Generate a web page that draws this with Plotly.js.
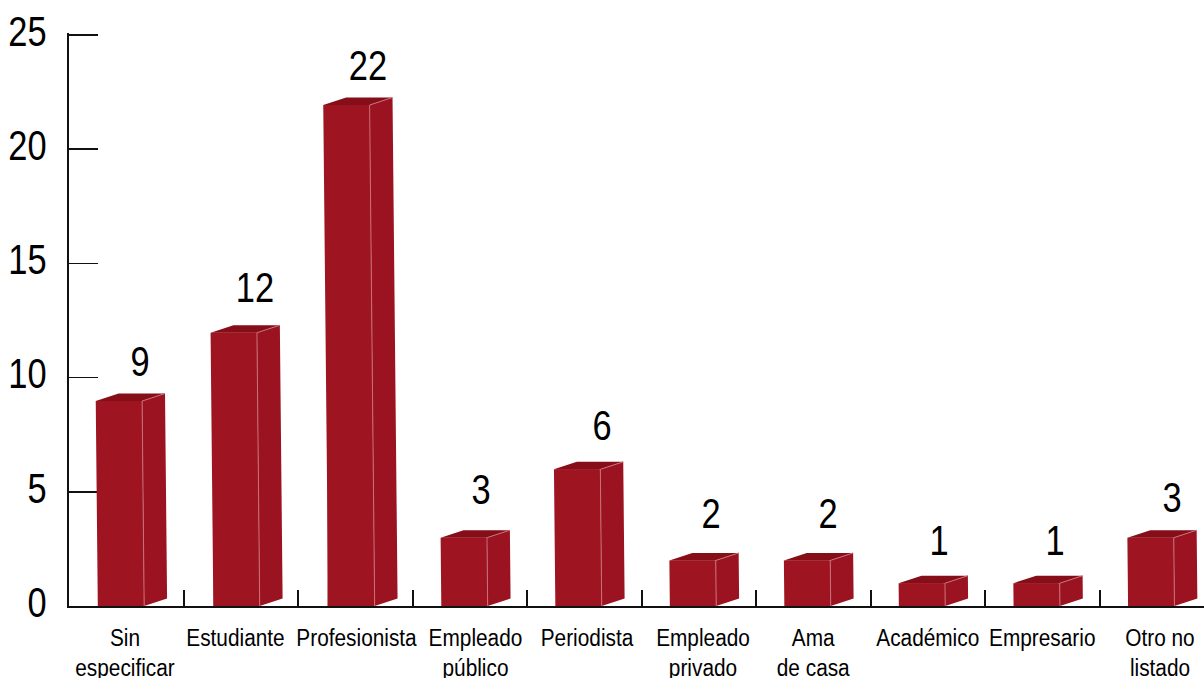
<!DOCTYPE html>
<html><head><meta charset="utf-8">
<script src="https://cdn.plot.ly/plotly-3.0.1.min.js"></script>
<style>html,body{margin:0;padding:0;background:#fff;overflow:hidden}</style>
</head><body><div id="chart" style="width:1204px;height:678px"></div>
<script>
const categories = ["Sin<br>especificar","Estudiante","Profesionista","Empleado<br>público","Periodista","Empleado<br>privado","Ama<br>de casa","Académico","Empresario","Otro no<br>listado"];
const values = [9,12,22,3,6,2,2,1,1,3];
const categoryLabelX = [-0.011,0.954,2.011,3.05,4.024,5.037,6.0,7.0,8.0,9.028];
const barShift = [-0.046,-0.037,-0.033,-0.046,-0.05,-0.05,-0.05,-0.05,-0.048,-0.048];
const labelX = [0.12,1.124,2.111,3.098,4.155,5.107,6.129,7.098,8.111,9.133];
const labelY = [10.53,13.77,23.49,4.93,7.73,3.88,3.88,2.70,2.70,4.58];
const yTicks = [0,5,10,15,20,25];
const boundaries = [-0.5,0.5,1.5,2.5,3.5,4.5,5.5,6.5,7.5,8.5];

const FRONT='#9E1421', TOP='#850E19', SIDE='#9B1320', EDGE='#C8707A';
const W=0.405, DX=0.2, DY=0.33, LEAN=0.002, SHRINK=0.997;
const cx=categories.map((_,i)=>i);
const FONT='"Liberation Sans",sans-serif';

function poly(fn){const xs=[],ys=[];values.forEach((v,i)=>{fn(i+barShift[i],v*SHRINK,v).forEach(p=>{xs.push(p[0]);ys.push(p[1]);});xs.push(null);ys.push(null);});return{x:xs,y:ys};}
const filled=(p,c)=>({type:'scatter',mode:'lines',x:p.x,y:p.y,fill:'toself',fillcolor:c,line:{color:c,width:0},hoverinfo:'skip',showlegend:false});

const bars={type:'bar',x:cx.map(i=>i+barShift[i]-LEAN*values[i]/2),y:values.map(v=>v*SHRINK),width:W-0.03,marker:{color:FRONT,line:{width:0}},hoverinfo:'y',showlegend:false};
const front=poly((c,h,v)=>[[c-W/2,0],[c+W/2,0],[c+W/2-LEAN*v,h],[c-W/2-LEAN*v,h]]);
const side=poly((c,h,v)=>[[c+W/2,0],[c+W/2+DX,DY],[c+W/2+DX-LEAN*v,h+DY],[c+W/2-LEAN*v,h]]);
const top_=poly((c,h,v)=>{const l=LEAN*v;return[[c-W/2-l,h],[c+W/2-l,h],[c+W/2+DX-l,h+DY],[c-W/2+DX-l,h+DY]];});
const edges=poly((c,h,v)=>{const l=LEAN*v;return[[c+W/2,0],[c+W/2-l,h],[c+W/2+DX-l,h+DY]];});
const edgeTrace={type:'scatter',mode:'lines',x:edges.x,y:edges.y,line:{color:EDGE,width:1},hoverinfo:'skip',showlegend:false};
const labels={type:'scatter',mode:'text',x:labelX,y:labelY,text:values.map(String),textposition:'middle center',cliponaxis:false,
  textfont:{family:FONT,size:42,color:'#000'},hoverinfo:'skip',showlegend:false};
const tickCarrier={type:'scatter',mode:'none',x:boundaries,y:boundaries.map(()=>0),xaxis:'x2',hoverinfo:'skip',showlegend:false};

const xr=[-0.5,-0.5+1135/114.5];
const layout={width:1204,height:678,margin:{l:69,r:0,t:33,b:72},paper_bgcolor:'#fff',plot_bgcolor:'#fff',showlegend:false,barmode:'overlay',
 font:{family:FONT,color:'#000'},
 xaxis:{type:'linear',range:xr,tickmode:'array',tickvals:categoryLabelX,ticktext:categories,ticks:'',showgrid:false,zeroline:false,showline:true,linecolor:'#111',linewidth:1.5,
   tickfont:{size:23,color:'#000'},tickangle:0,ticklabelstandoff:11,layer:'below traces',automargin:false},
 xaxis2:{type:'linear',overlaying:'x',range:xr,anchor:'y',side:'bottom',tickmode:'array',tickvals:boundaries,ticktext:boundaries.map(()=>''),ticks:'inside',ticklen:16,tickwidth:2,tickcolor:'#111',showgrid:false,zeroline:false,showline:false,layer:'below traces',automargin:false},
 yaxis:{range:[0,25+2/22.84],tickmode:'array',tickvals:yTicks,ticks:'inside',ticklen:29,tickwidth:1.5,tickcolor:'#111',showgrid:false,zeroline:false,showline:true,linecolor:'#111',linewidth:2,
   tickfont:{size:42,color:'#000'},ticklabelstandoff:12,ticklabelshift:-4,layer:'below traces',automargin:false}};

function condense(){
  const gd=document.getElementById('chart');
  const squeeze=(el,f)=>{const len=el.getComputedTextLength();if(len>0){el.setAttribute('textLength',(len*f).toFixed(2));el.setAttribute('lengthAdjust','spacingAndGlyphs');}};
  gd.querySelectorAll('.xtick text').forEach(t=>{const spans=t.querySelectorAll('tspan.line');if(spans.length)spans.forEach(s=>squeeze(s,0.905));else squeeze(t,0.905);});
  gd.querySelectorAll('.ytick text, .textpoint text').forEach(t=>squeeze(t,0.82));
}
Plotly.newPlot('chart',[tickCarrier,bars,filled(side,SIDE),filled(top_,TOP),filled(front,FRONT),edgeTrace,labels],layout,{displayModeBar:false,staticPlot:true}).then(condense);
</script></body></html>
